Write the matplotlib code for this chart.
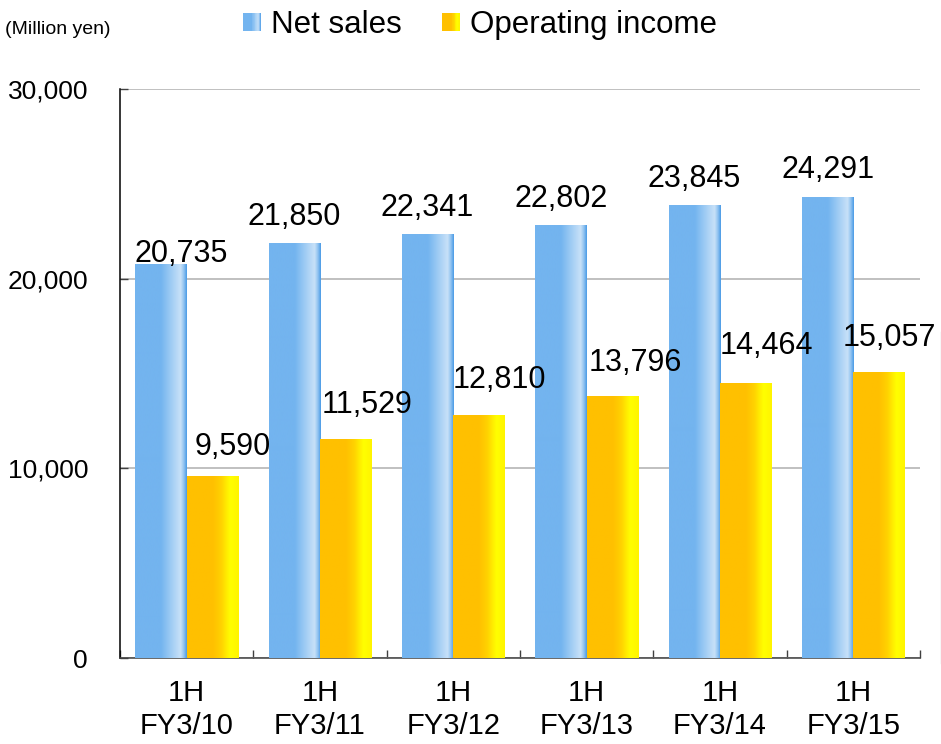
import numpy as np
import matplotlib.pyplot as plt
from matplotlib.colors import LinearSegmentedColormap
from matplotlib.patches import Patch, Rectangle
from matplotlib.legend_handler import HandlerBase
from matplotlib.lines import Line2D

plt.rcParams['font.family'] = ['Liberation Sans', 'DejaVu Sans']

# data (million yen)
periods = ['1H\nFY3/10', '1H\nFY3/11', '1H\nFY3/12', '1H\nFY3/13', '1H\nFY3/14', '1H\nFY3/15']
net_sales = [20735, 21850, 22341, 22802, 23845, 24291]
operating_income = [9590, 11529, 12810, 13796, 14464, 15057]
series_names = ['Net sales', 'Operating income']

# hand placed label offsets in the original (pixels, dx / dy above bar top)
sales_label_offsets = [(20, 3), (0, 19), (0, 18), (0, 19), (0, 19), (0, 19)]
income_label_offsets = [(20, 21), (21, 26), (20, 27), (23, 25), (21, 30), (10, 26)]

# horizontal gradients like the office-style bars
blue_cmap = LinearSegmentedColormap.from_list('blue_bar', [
    (0.0, '#73b4ef'), (0.5, '#73b4ef'), (0.62, '#8ec3f2'),
    (0.88, '#c8e1f8'), (0.94, '#93c4f1'), (1.0, '#4a9be6')])
orange_cmap = LinearSegmentedColormap.from_list('orange_bar', [
    (0.0, '#ffc000'), (0.5, '#ffc000'), (0.66, '#ffd200'),
    (0.84, '#ffff00'), (1.0, '#fff400')])

grad = np.linspace(0, 1, 256).reshape(1, -1)


def paint_gradient(ax, bars, cmap):
    # overlay each bar with a gradient image of the same extent
    for b in bars:
        x0 = b.get_x()
        ax.imshow(grad, cmap=cmap, aspect='auto', interpolation='bilinear',
                  extent=(x0, x0 + b.get_width(), 0, b.get_height()), zorder=3)


class GradientHandler(HandlerBase):
    def __init__(self, cmap):
        super().__init__()
        self.cmap = cmap

    def create_artists(self, legend, orig_handle, xdescent, ydescent,
                       width, height, fontsize, trans):
        n = 24
        artists = []
        for i in range(n):
            r = Rectangle((-xdescent + width * i / n, -ydescent), width / n + 0.3, height,
                          facecolor=self.cmap((i + 0.5) / n), edgecolor='none',
                          transform=trans)
            artists.append(r)
        return artists


fig = plt.figure(figsize=(9.41, 7.44), dpi=100)
ax = fig.add_axes([120 / 941, (744 - 658) / 744, 800 / 941, (658 - 89) / 744])

x = np.arange(len(periods))
w = 0.386
bars_sales = ax.bar(x - w / 2, net_sales, w, color='#73b4ef', zorder=2)
bars_income = ax.bar(x + w / 2, operating_income, w, color='#ffc000', zorder=2)
paint_gradient(ax, bars_sales, blue_cmap)
paint_gradient(ax, bars_income, orange_cmap)

for b, v, (dx, dy) in zip(bars_sales, net_sales, sales_label_offsets):
    ax.annotate(f'{v:,}', (b.get_x() + b.get_width() / 2, v), xytext=(dx, dy),
                textcoords='offset pixels', ha='center', va='baseline',
                fontsize=22, zorder=5)
for b, v, (dx, dy) in zip(bars_income, operating_income, income_label_offsets):
    ax.annotate(f'{v:,}', (b.get_x() + b.get_width() / 2, v), xytext=(dx, dy),
                textcoords='offset pixels', ha='center', va='baseline',
                fontsize=22, zorder=5, annotation_clip=False)

ax.set_xlim(-0.5, len(periods) - 0.5)
ax.set_ylim(0, 30000)
ax.set_yticks([0, 10000, 20000, 30000])
ax.set_yticklabels([f'{t:,}' for t in [0, 10000, 20000, 30000]])
ax.yaxis.grid(True, color='#c0c0c0', linewidth=1.4)
ax.set_axisbelow(True)

ax.set_xticks(x)
ax.set_xticklabels(periods, fontsize=21, linespacing=1.25)
ax.set_xticks(np.arange(-0.5, len(periods), 1), minor=True)
ax.tick_params(axis='x', which='major', length=0, pad=15)
ax.tick_params(axis='x', which='minor', direction='in', length=5.8, width=1, color='#404040')
ax.tick_params(axis='y', direction='in', length=5.8, width=1, color='#404040',
               labelsize=19, pad=23)

for side in ['top', 'right']:
    ax.spines[side].set_visible(False)
ax.spines['left'].set_color('#000000')
ax.spines['bottom'].set_color('#404040')
ax.spines['left'].set_linewidth(1.1)
ax.spines['bottom'].set_linewidth(1.1)

fig.text(5 / 941, 1 - 29 / 744, '(Million yen)', fontsize=14, va='center', ha='left')

handles = [Patch(label=series_names[0]), Patch(label=series_names[1])]
fig.legend(handles=handles, labels=series_names, loc='upper left',
           bbox_to_anchor=(243 / 941, 1 - 10 / 744), ncol=2, frameon=False,
           fontsize=22.5, borderpad=0, borderaxespad=0, handlelength=0.56,
           handleheight=0.52, handletextpad=0.33, columnspacing=1.3,
           handler_map={handles[0]: GradientHandler(blue_cmap),
                        handles[1]: GradientHandler(orange_cmap)})

# faint frame edge visible at the right border of the original
fig.add_artist(Line2D([940.5 / 941] * 2, [(744 - 663) / 744, (744 - 332) / 744],
                      color='#d9d9d9', linewidth=1))

fig.savefig('out.png', dpi=100)
